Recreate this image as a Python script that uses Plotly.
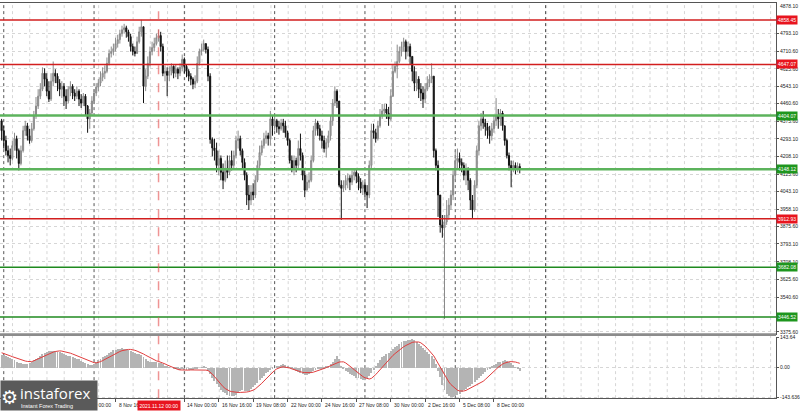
import pandas as pd
import plotly.graph_objects as go

# ---------------- data (ETHUSD H4) ----------------
start = pd.Timestamp("2021-10-30 20:00")
first_open = 4379

close = [
4332,4285,4237,4214,4200,4261,4294,4237,4176,4237,
4332,4355,4308,4285,4341,4402,4449,4496,4529,4605,
4577,4520,4482,4567,4605,4591,4558,4529,4543,4496,
4473,4529,4543,4511,4496,4520,4482,4463,4496,4449,
4388,4416,4473,4511,4539,4558,4586,4605,4614,4652,
4699,4708,4722,4746,4765,4793,4812,4821,4802,4779,
4732,4708,4699,4755,4802,4826,4543,4591,4652,4708,
4727,4746,4774,4784,4732,4605,4614,4595,4614,4638,
4605,4624,4605,4633,4671,4638,4614,4591,4577,4553,
4567,4652,4708,4718,4746,4718,4591,4290,4250,4237,
4167,4200,4134,4096,4153,4134,4190,4167,4214,4285,
4294,4237,4181,4120,4026,4002,4040,4026,4096,4167,
4228,4261,4294,4308,4294,4388,4355,4379,4351,4341,
4369,4355,4322,4285,4190,4153,4190,4167,4247,4214,
4120,4049,4087,4096,4190,4332,4369,4341,4308,4285,
4247,4275,4308,4379,4463,4520,4473,4073,4058,4073,
4096,4106,4087,4120,4134,4115,4087,4058,4073,4040,
4026,4167,4332,4322,4294,4355,4402,4426,4435,4416,
4388,4496,4614,4638,4661,4708,4732,4755,4708,4732,
4685,4614,4558,4577,4529,4511,4482,4529,4558,4577,
4591,4237,4167,4026,3884,3870,3898,3931,3978,4026,
4120,4190,4200,4181,4167,4120,4153,4096,4002,3955,
4073,4237,4355,4388,4369,4351,4332,4308,4341,4379,
4402,4388,4416,4355,4285,4214,4167,4153,4167,4153,
4162,4153]

high = [
4388,4355,4308,4261,4247,4285,4322,4308,4247,4261,
4355,4379,4369,4341,4369,4426,4492,4529,4558,4633,
4628,4605,4567,4605,4661,4624,4605,4577,4567,4558,
4529,4543,4567,4553,4529,4543,4529,4506,4511,4506,
4454,4435,4496,4529,4558,4577,4614,4633,4642,4680,
4718,4732,4746,4774,4788,4812,4831,4840,4831,4812,
4793,4746,4732,4779,4826,4859,4826,4624,4685,4732,
4755,4774,4793,4812,4802,4746,4642,4633,4638,4652,
4642,4647,4633,4652,4694,4680,4647,4624,4605,4586,
4595,4685,4722,4746,4765,4746,4732,4605,4300,4294,
4275,4237,4214,4176,4190,4214,4214,4237,4237,4308,
4332,4308,4247,4200,4134,4073,4073,4082,4120,4190,
4261,4285,4322,4332,4322,4426,4402,4402,4388,4379,
4388,4388,4379,4332,4294,4214,4214,4204,4285,4318,
4228,4143,4120,4134,4214,4355,4388,4379,4360,4332,
4308,4294,4332,4402,4482,4543,4529,4473,4096,4096,
4120,4129,4120,4143,4153,4153,4129,4106,4096,4087,
4073,4190,4365,4365,4341,4379,4435,4459,4459,4459,
4445,4529,4647,4661,4741,4732,4755,4774,4765,4755,
4746,4661,4638,4614,4591,4558,4543,4558,4591,4600,
4652,4591,4247,4190,4026,3931,3931,4002,4011,4049,
4143,4237,4247,4228,4200,4181,4176,4157,4106,4026,
4096,4261,4379,4416,4426,4388,4369,4355,4369,4402,
4487,4435,4435,4426,4355,4294,4228,4190,4190,4181,
4181,4176]

low = [
4285,4247,4214,4181,4167,4190,4237,4200,4143,4167,
4228,4308,4285,4270,4275,4332,4388,4435,4482,4520,
4543,4496,4468,4473,4543,4558,4520,4496,4487,4449,
4435,4463,4496,4482,4473,4482,4449,4440,4449,4402,
4322,4341,4402,4459,4496,4520,4543,4567,4577,4605,
4642,4680,4690,4708,4727,4746,4779,4793,4774,4755,
4708,4690,4685,4699,4746,4779,4463,4520,4577,4638,
4690,4708,4737,4755,4708,4591,4567,4496,4567,4595,
4581,4586,4577,4591,4614,4605,4586,4567,4548,4529,
4534,4558,4642,4690,4708,4699,4567,4270,4210,4190,
4134,4120,4096,4054,4087,4106,4120,4143,4153,4200,
4247,4214,4153,4096,3978,3955,3978,4002,4011,4087,
4153,4214,4247,4270,4261,4261,4308,4332,4322,4313,
4332,4322,4299,4261,4176,4134,4120,4134,4153,4190,
4096,4016,4049,4058,4087,4181,4308,4308,4285,4247,
4228,4204,4252,4285,4355,4449,4440,4063,3908,4040,
4049,4058,4049,4073,4096,4082,4049,4035,4026,4016,
3964,4011,4153,4294,4275,4285,4346,4388,4402,4388,
4355,4379,4492,4605,4581,4652,4685,4708,4671,4685,
4647,4567,4520,4520,4487,4473,4440,4463,4520,4539,
4558,4204,4143,3922,3847,3823,3437,3884,3908,3955,
4002,4096,4153,4143,4134,4096,4073,4049,3955,3917,
3946,4058,4214,4332,4341,4308,4294,4270,4285,4322,
4355,4341,4355,4332,4261,4200,4143,4063,4134,4124,
4134,4129]

macd = [
60,62,58,52,45,
40,35,30,25,22,20,19,20,25,
30,36,42,48,55,
65,72,78,80,
82,82,80,78,75,
70,66,62,58,55,
50,47,44,40,
34,28,22,16,13,
15,20,
28,35,42,50,56,62,70,
78,84,88,90,92,93,92,
90,86,80,75,70,
66,64,62,50,
40,34,30,28,27,
26,25,22,16,10,
5,2,0,-3,-5,
-8,-10,-8,-10,-12,-13,-12,
-10,-8,-4,0,3,5,2,
-15,-30,-50,-65,
-80,-95,-108,-118,-124,
-130,-135,-138,-137,
-130,-120,-112,-110,-112,
-115,-112,-105,-95,-85,
-72,-60,-48,-38,
-28,-20,-12,-6,0,
6,10,14,16,14,
8,2,-4,-10,
-16,-22,-26,-30,-34,
-33,-30,-26,-18,-12,
-8,-6,-4,-2,
4,10,18,28,40,
55,40,10,-8,
-15,-22,-30,-36,-42,-48,-52,-56,-60,-58,
-50,-38,-25,-12,
5,22,38,50,58,
64,72,80,90,98,106,115,
122,127,130,133,136,
138,135,
125,115,105,96,88,
78,65,55,
40,20,-15,-45,-85,-110,
-125,-135,-140,-142,-138,
-132,-125,-118,-110,
-102,-95,-88,-80,-70,-60,-52,
-40,-30,-20,-12,-5,
5,12,20,26,30,
33,35,33,28,22,
12,2,-8,-15]

signal = [
71,68,64,60,56,52,48,44,40,37,
34,31,29,27,28,32,37,42,47,52,
57,62,67,71,74,77,79,80,79,77,
75,72,69,65,61,57,53,48,44,39,
34,30,26,23,22,24,28,33,39,45,
51,57,63,68,73,77,81,84,86,87,
87,86,83,79,75,70,65,59,53,47,
41,36,32,29,26,22,17,12,7,2,
-3,-7,-10,-12,-13,-13,-13,-13,-12,-12,
-11,-11,-11,-11,-12,-13,-15,-22,-32,-44,
-57,-70,-82,-93,-102,-109,-114,-117,-119,-120,
-121,-121,-121,-120,-119,-117,-114,-110,-104,-96,
-87,-77,-66,-55,-44,-33,-23,-14,-7,-2,
1,3,2,0,-3,-7,-11,-15,-19,-22,
-24,-25,-26,-26,-25,-23,-20,-17,-13,-9,
-5,-1,4,9,14,19,23,26,27,27,
22,15,7,-2,-11,-20,-29,-37,-44,-50,
-54,-56,-53,-45,-35,-23,-11,1,13,25,
37,48,58,67,76,85,93,100,106,112,
117,121,123,124,123,119,112,103,92,80,
68,56,38,20,2,-17,-37,-55,-70,-83,
-93,-104,-110,-114,-115,-114,-111,-106,-100,-94,
-88,-83,-79,-75,-67,-58,-49,-40,-31,-20,
-9,1,10,16,21,25,27,28,28,26,
23,20]

price_ticks = [4793.10, 4710.60, 4625.60, 4543.10, 4460.60, 4375.60,
               4293.10, 4208.10, 4125.60, 4043.10, 3958.10, 3875.60, 3793.10,
               3708.10, 3625.60, 3540.60, 3375.60]
top_price_label = "4878.10"
macd_ticks = [143.64, 0.0, -143.636]
macd_tick_text = ["143.64", "0.00", "-143.636"]

red_levels = [4858.45, 4647.07, 3912.93]
green_levels_major = [4404.07, 4148.12]
green_levels_minor = [3682.08, 3446.52]

xlabel_times = ["2021-11-06 00:00", "2021-11-08 16:00",
                "2021-11-14 00:00", "2021-11-16 16:00", "2021-11-19 08:00",
                "2021-11-22 00:00", "2021-11-24 16:00", "2021-11-27 08:00",
                "2021-11-30 00:00", "2021-12-02 16:00", "2021-12-05 08:00",
                "2021-12-08 00:00"]
xlabel_text = ["6 Nov 00:00", "8 Nov 16:00", "14 Nov 00:00",
               "16 Nov 16:00", "19 Nov 08:00", "22 Nov 00:00", "24 Nov 16:00",
               "27 Nov 08:00", "30 Nov 00:00", "2 Dec 16:00", "5 Dec 08:00",
               "8 Dec 00:00"]
week_separators = ["2021-10-31", "2021-11-07", "2021-11-14", "2021-11-21",
                   "2021-11-28", "2021-12-05", "2021-12-12"]
cursor_time = "2021-11-12 00:00"
cursor_text = "2021.11.12 00:00"

# ---------------- derived ----------------
times = [start + pd.Timedelta(hours=4 * i) for i in range(len(close))]
opens = [first_open] + close[:-1]
highs = [max(h, o, c) for h, o, c in zip(high, opens, close)]
lows = [min(l, o, c) for l, o, c in zip(low, opens, close)]

# ---------------- layout geometry ----------------
W, H = 800, 413
AXIS_PX = 776
PX_PER_H = 0.5375
t0 = start - pd.Timedelta(hours=1.6 / PX_PER_H)
def tx(px):
    return t0 + pd.Timedelta(hours=px / PX_PER_H)
def py(px):
    return 1 - px / H
AXR = AXIS_PX / W
MAIN_TOP, MAIN_BOT = 1.5, 335
IND_TOP, IND_BOT = 338, 400

FONT = "Liberation Sans"
TXT = "#222222"

fig = go.Figure()
fig.add_trace(go.Candlestick(
    x=times, open=opens, high=highs, low=lows, close=close,
    increasing=dict(line=dict(color="#8a8a8a", width=1), fillcolor="#a8a8a8"),
    decreasing=dict(line=dict(color="#111111", width=1), fillcolor="#111111"),
    whiskerwidth=0, xaxis="x", yaxis="y", showlegend=False, hoverinfo="skip"))
fig.add_trace(go.Bar(
    x=times, y=macd, marker=dict(color="#b4b4b4", line=dict(width=0)),
    width=4 * 3600 * 1000 * 0.45, xaxis="x2", yaxis="y2", showlegend=False,
    hoverinfo="skip"))
fig.add_trace(go.Scatter(
    x=times, y=signal, mode="lines", line=dict(color="#e03c3c", width=1),
    xaxis="x2", yaxis="y2", showlegend=False, hoverinfo="skip"))

shapes = []
k = 0
while True:
    px = 12.5 + 17.23 * k
    if px >= AXIS_PX:
        break
    shapes.append(dict(type="line", xref="paper", yref="paper", x0=px / W, x1=px / W,
                       y0=py(IND_BOT), y1=py(MAIN_TOP),
                       line=dict(color="#d6d6d6", width=1, dash="dot"), layer="below"))
    k += 1
for ws in week_separators:
    shapes.append(dict(type="line", xref="x", yref="paper", x0=ws, x1=ws,
                       y0=py(IND_BOT), y1=py(MAIN_TOP),
                       line=dict(color="#555555", width=1, dash="dot"), layer="below"))
for lv in red_levels:
    shapes.append(dict(type="line", xref="paper", yref="y", x0=0, x1=AXR, y0=lv, y1=lv,
                       line=dict(color="#d21e1e", width=1.5)))
for lv in green_levels_major:
    shapes.append(dict(type="line", xref="paper", yref="y", x0=0, x1=AXR, y0=lv, y1=lv,
                       line=dict(color="#5cb35c", width=2.5)))
for lv in green_levels_minor:
    shapes.append(dict(type="line", xref="paper", yref="y", x0=0, x1=AXR, y0=lv, y1=lv,
                       line=dict(color="#1f8a1f", width=1.5)))
shapes.append(dict(type="line", xref="x", yref="paper", x0=cursor_time, x1=cursor_time,
                   y0=py(IND_BOT), y1=py(MAIN_TOP),
                   line=dict(color="rgba(230,90,90,0.65)", width=1.5, dash="dash")))
shapes.append(dict(type="rect", xref="paper", yref="paper", x0=0, x1=AXR,
                   y0=py(337.3), y1=py(334.6), fillcolor="#8c8c8c", line=dict(width=0)))

ann = []
for t, s in zip(xlabel_times, xlabel_text):
    ann.append(dict(x=t, y=py(407), xref="x", yref="paper", text=s, showarrow=False,
                    xanchor="left", yanchor="middle", xshift=1,
                    font=dict(family=FONT, size=5, color=TXT)))
ann.append(dict(x=AXR, y=py(4.5), xref="paper", yref="paper", text=top_price_label,
                showarrow=False, xanchor="left", yanchor="middle", xshift=2,
                font=dict(family=FONT, size=5, color=TXT)))
for lv in red_levels:
    ann.append(dict(x=AXR, y=lv, xref="paper", yref="y", text=f"{lv:.2f}", showarrow=False,
                    xanchor="left", yanchor="middle", bgcolor="#e8141e", borderpad=1,
                    font=dict(family=FONT, size=5, color="white")))
for lv in green_levels_major + green_levels_minor:
    ann.append(dict(x=AXR, y=lv, xref="paper", yref="y", text=f"{lv:.2f}", showarrow=False,
                    xanchor="left", yanchor="middle", bgcolor="#1e961e", borderpad=1,
                    font=dict(family=FONT, size=5, color="white")))
ann.append(dict(x=cursor_time, y=py(407), xref="x", yref="paper", text=cursor_text,
                showarrow=False, xanchor="center", yanchor="middle", bgcolor="#e8141e",
                borderpad=1.5, font=dict(family=FONT, size=5, color="white")))
# logo
ann.append(dict(x=0, y=0, xref="paper", yref="paper", text=" ", showarrow=False,
                xanchor="left", yanchor="bottom", width=96, height=29, bgcolor="#5a5a5a",
                borderpad=0))
ann.append(dict(x=9.5 / W, y=py(399), xref="paper", yref="paper", text="⚙", showarrow=False,
                xanchor="center", yanchor="middle",
                font=dict(family="DejaVu Sans", size=19, color="white")))
ann.append(dict(x=18 / W, y=py(395), xref="paper", yref="paper", text="instaforex",
                showarrow=False, xanchor="left", yanchor="middle",
                font=dict(family="Open Sans", size=15, color="white")))
ann.append(dict(x=19 / W, y=py(407.5), xref="paper", yref="paper",
                text="Instant Forex Trading", showarrow=False, xanchor="left",
                yanchor="middle", font=dict(family=FONT, size=5.5, color="white")))

fig.update_layout(
    width=W, height=H, margin=dict(l=0, r=0, t=0, b=0),
    paper_bgcolor="white", plot_bgcolor="white", showlegend=False,
    font=dict(family=FONT, size=5, color=TXT),
    xaxis=dict(domain=[0, AXR], range=[tx(0), tx(AXIS_PX)], anchor="y",
               showticklabels=False, showgrid=False, zeroline=False,
               showline=True, mirror=True, linecolor="#555555", linewidth=1,
               rangeslider=dict(visible=False)),
    xaxis2=dict(domain=[0, AXR], matches="x", anchor="y2", showticklabels=False,
                showgrid=False, zeroline=False, showline=True, linecolor="#555555",
                linewidth=1, ticks="outside", ticklen=3, tickcolor="#555555",
                tickvals=xlabel_times),
    yaxis=dict(domain=[py(MAIN_BOT), py(MAIN_TOP)], range=[3366.3, 4936.7], side="right",
               anchor="x", tickvals=price_ticks, ticktext=[f"{v:.2f}" for v in price_ticks],
               showline=True, linecolor="#555555", linewidth=1, ticks="outside", ticklen=2,
               tickcolor="#555555", tickfont=dict(family=FONT, size=5, color=TXT),
               showgrid=True, gridcolor="#d6d6d6", griddash="dot", zeroline=False),
    yaxis2=dict(domain=[py(IND_BOT), py(IND_TOP)], range=[-148.5, 148.5], side="right",
                anchor="x2", tickvals=macd_ticks, ticktext=macd_tick_text,
                showline=True, linecolor="#555555", linewidth=1, ticks="outside", ticklen=2,
                tickcolor="#555555", tickfont=dict(family=FONT, size=5, color=TXT),
                showgrid=True, gridcolor="#d6d6d6", griddash="dot", zeroline=False),
    bargap=0, shapes=shapes, annotations=ann)

fig.write_html("out.html", config={"displayModeBar": False},
               post_script="document.body.style.margin='0';"
                           "document.body.style.overflow='hidden';")
